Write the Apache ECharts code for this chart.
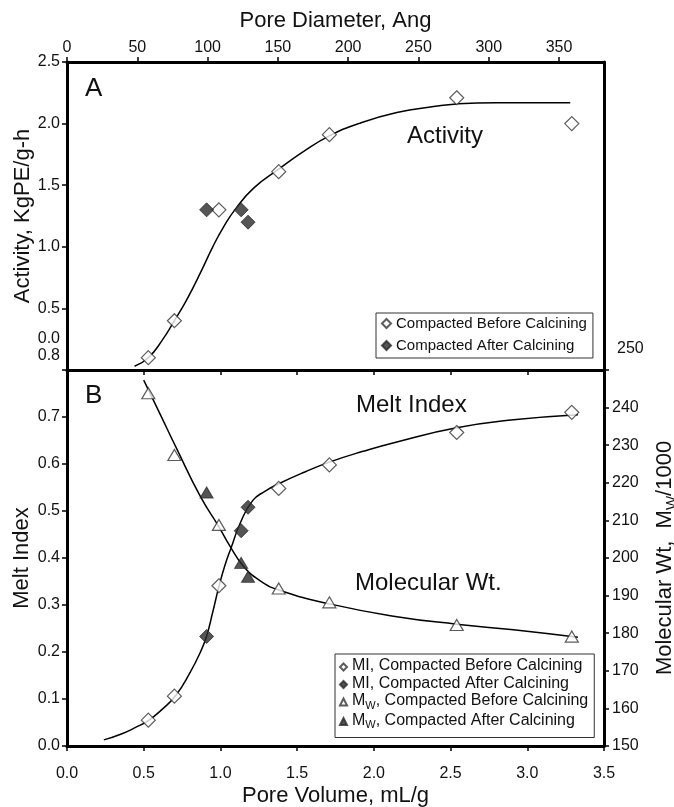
<!DOCTYPE html>
<html>
<head>
<meta charset="utf-8">
<script src="https://cdn.jsdelivr.net/npm/echarts@6/dist/echarts.min.js"></script>
<style>
  html, body { margin: 0; padding: 0; background: #fff; }
  #chart { width: 674px; height: 807px; }
</style>
</head>
<body>
<div id="chart"></div>
<script>
// Sample pore volumes, mL/g
const poreVolBefore = [0.53, 0.70, 0.99, 1.38, 1.71, 2.54, 3.29];
const poreVolAfter = [0.91, 1.135, 1.18];

// Panel A: activity, KgPE/g-h
const activityBefore = [0.10, 0.40, 1.30, 1.61, 1.91, 2.21, 2.00];
const activityAfter = [1.30, 1.30, 1.20];

// Panel B: melt index
const miBefore = [0.055, 0.106, 0.341, 0.548, 0.598, 0.667, 0.710];
const miAfter = [0.233, 0.458, 0.508];

// Panel B: molecular weight, Mw/1000
const mwBefore = [243.8, 227.4, 208.8, 191.9, 188.2, 182.2, 179.1];
const mwAfter = [217.4, 198.7, 195.0];

// Fitted trend curves
const activityFitX = [0.44, 0.53, 0.62, 0.70, 0.78, 0.87, 0.95, 1.02, 1.10, 1.22, 1.38, 1.55, 1.71, 1.90, 2.15, 2.40, 2.54, 2.80, 3.05, 3.28];
const activityFitY = [0.03, 0.10, 0.24, 0.40, 0.57, 0.79, 1.00, 1.16, 1.31, 1.48, 1.63, 1.78, 1.90, 2.00, 2.09, 2.14, 2.16, 2.17, 2.17, 2.17];
const miFitX = [0.24, 0.35, 0.45, 0.53, 0.62, 0.71, 0.80, 0.87, 0.91, 0.95, 0.99, 1.03, 1.07, 1.13, 1.21, 1.29, 1.38, 1.55, 1.71, 1.93, 2.15, 2.54, 2.91, 3.33];
const miFitY = [0.013, 0.025, 0.040, 0.054, 0.078, 0.108, 0.155, 0.200, 0.234, 0.285, 0.339, 0.385, 0.422, 0.475, 0.522, 0.542, 0.558, 0.583, 0.604, 0.627, 0.647, 0.677, 0.694, 0.705];
const mwFitX = [0.50, 0.61, 0.71, 0.87, 0.99, 1.06, 1.15, 1.26, 1.38, 1.71, 2.15, 2.54, 2.91, 3.33];
const mwFitY = [247.3, 238.0, 229.5, 216.3, 208.3, 203.3, 197.8, 193.9, 191.5, 187.8, 184.4, 182.4, 180.9, 178.9];

// Axis ranges and tick steps
const poreVolRange = [0, 3.5, 0.5];
const poreDiamRange = [0, 382, 50];
const activityRange = [0, 2.5, 0.5];
const miRange = [0, 0.8, 0.1];
const mwRange = [150, 250, 10];

const pair = (xs, ys) => xs.map((x, i) => [x, ys[i]]);

const FONT = "'Liberation Sans', Arial, Helvetica, sans-serif";
const INK = '#111';
const frameLine = { show: true, onZero: false, lineStyle: { color: '#000', width: 3 } };
const outTick = { show: true, inside: false, length: 5, lineStyle: { color: '#000', width: 1.5 } };
const tickText = { color: INK, fontSize: 16, fontFamily: FONT };
const titleText = { color: INK, fontSize: 22, fontFamily: FONT };
const noSplit = { show: false };

const openMark = { color: '#fff', borderColor: '#333', borderWidth: 1.2 };
const solidMark = { color: '#2b2b2b', borderColor: '#2b2b2b', borderWidth: 1 };
const fitLine = { color: '#000', width: 1.5 };

const chart = echarts.init(document.getElementById('chart'), null, { renderer: 'canvas' });

const fitSeries = (name, xi, yi, data) => ({
  name, type: 'line', xAxisIndex: xi, yAxisIndex: yi, data,
  symbol: 'none', showSymbol: false, smooth: 0.5,
  lineStyle: fitLine, z: 2, silent: true, clip: true
});
const markSeries = (name, xi, yi, data, symbol, size, style) => ({
  name, type: 'scatter', xAxisIndex: xi, yAxisIndex: yi, data,
  symbol, symbolSize: size, itemStyle: style, z: 3, silent: true
});

// Subscripted "W" for Mw in legend texts
const subRich = {
  m: { fontSize: 16, fontFamily: FONT, color: INK, padding: [0, 0, 2, 0] },
  s: { fontSize: 11, fontFamily: FONT, color: INK, verticalAlign: 'bottom' }
};

const option = {
  backgroundColor: '#fff',
  animation: false,
  grid: [
    { left: 67, right: 70, top: 62, height: 308, outerBoundsMode: 'none', containLabel: false },
    { left: 67, right: 70, top: 370, height: 376, outerBoundsMode: 'none', containLabel: false }
  ],
  xAxis: [
    {
      gridIndex: 0, type: 'value', position: 'bottom',
      min: poreVolRange[0], max: poreVolRange[1], interval: poreVolRange[2],
      axisLine: frameLine, axisTick: outTick, axisLabel: { show: false }, splitLine: noSplit
    },
    {
      gridIndex: 0, type: 'value', position: 'top',
      min: poreDiamRange[0], max: poreDiamRange[1], interval: poreDiamRange[2],
      axisLine: frameLine, axisTick: outTick,
      axisLabel: Object.assign({ margin: 6, showMaxLabel: false, showMinLabel: true }, tickText),
      splitLine: noSplit,
      name: 'Pore Diameter, Ang', nameLocation: 'middle', nameGap: 30, nameTextStyle: titleText
    },
    {
      gridIndex: 1, type: 'value', position: 'bottom',
      min: poreVolRange[0], max: poreVolRange[1], interval: poreVolRange[2],
      axisLine: frameLine, axisTick: outTick,
      axisLabel: Object.assign({ margin: 20, showMinLabel: true, showMaxLabel: true,
        formatter: v => v.toFixed(1) }, tickText),
      splitLine: noSplit,
      name: 'Pore Volume, mL/g', nameLocation: 'middle', nameGap: 39, nameTextStyle: titleText
    }
  ],
  yAxis: [
    {
      gridIndex: 0, type: 'value', position: 'left',
      min: activityRange[0], max: activityRange[1], interval: activityRange[2],
      axisLine: frameLine, axisTick: outTick,
      axisLabel: Object.assign({
        margin: 7, showMinLabel: true, showMaxLabel: true,
        formatter: v => (v === 0 ? '{lo|0.0}' : v.toFixed(1)),
        rich: { lo: Object.assign({ padding: [0, 0, 62, 0] }, tickText) }
      }, tickText),
      splitLine: noSplit,
      name: 'Activity, KgPE/g-h', nameLocation: 'middle', nameGap: 33, nameRotate: 90,
      nameMoveOverlap: false, nameTextStyle: titleText
    },
    {
      gridIndex: 0, type: 'value', position: 'right',
      min: activityRange[0], max: activityRange[1],
      axisLine: frameLine, axisTick: { show: false }, axisLabel: { show: false }, splitLine: noSplit
    },
    {
      gridIndex: 1, type: 'value', position: 'left',
      min: miRange[0], max: miRange[1], interval: miRange[2],
      axisLine: frameLine, axisTick: outTick,
      axisLabel: Object.assign({
        margin: 7, showMinLabel: true, showMaxLabel: true,
        formatter: v => (Math.abs(v - miRange[1]) < 1e-9 ? '{hi|' + v.toFixed(1) + '}' : v.toFixed(1)),
        rich: { hi: Object.assign({ padding: [0, 0, 28, 0] }, tickText) }
      }, tickText),
      splitLine: noSplit,
      name: 'Melt Index', nameLocation: 'middle', nameGap: 34, nameRotate: 90,
      nameMoveOverlap: false, nameTextStyle: titleText
    },
    {
      gridIndex: 1, type: 'value', position: 'right',
      min: mwRange[0], max: mwRange[1], interval: mwRange[2],
      axisLine: frameLine, axisTick: outTick,
      axisLabel: Object.assign({
        margin: 8, showMinLabel: true, showMaxLabel: true,
        formatter: v => (v === mwRange[1] ? '{hi|' + v + '}' : String(v)),
        rich: { hi: Object.assign({ padding: [0, 0, 43, 5] }, tickText) }
      }, tickText),
      splitLine: noSplit,
      name: '{t|Molecular Wt,  M}{u|W}{t|/1000}', nameLocation: 'middle', nameGap: 50, nameRotate: 90,
      nameMoveOverlap: false,
      nameTextStyle: Object.assign({
        rich: {
          t: { fontSize: 22, fontFamily: FONT, color: INK, padding: [0, 0, 3, 0] },
          u: { fontSize: 15, fontFamily: FONT, color: INK, verticalAlign: 'bottom' }
        }
      }, titleText)
    }
  ],
  legend: [
    {
      data: ['Compacted Before Calcining', 'Compacted After Calcining'],
      orient: 'vertical', left: 376, top: 313,
      padding: [3, 6, 5, 5], itemGap: 7, itemWidth: 9, itemHeight: 9,
      borderColor: '#333', borderWidth: 1, backgroundColor: '#fff',
      selectedMode: false,
      textStyle: { color: INK, fontSize: 15, fontFamily: FONT }
    },
    {
      data: ['MI, Compacted Before Calcining', 'MI, Compacted After Calcining',
             'Mw, Compacted Before Calcining', 'Mw, Compacted After Calcining'],
      orient: 'vertical', left: 335, top: 654,
      padding: [4, 6, 7, 4], itemGap: 1.5, itemWidth: 7, itemHeight: 7,
      borderColor: '#333', borderWidth: 1, backgroundColor: '#fff',
      selectedMode: false,
      formatter: name => name.startsWith('Mw')
        ? '{m|M}{s|W}{m|' + name.slice(2) + '}'
        : '{m|' + name + '}',
      textStyle: { color: INK, fontSize: 16, fontFamily: FONT, rich: subRich }
    }
  ],
  graphic: [
    { type: 'text', x: 85, y: 89, silent: true,
      style: { text: 'A', font: '26px ' + FONT, fill: INK, verticalAlign: 'middle', align: 'left' } },
    { type: 'text', x: 85, y: 396, silent: true,
      style: { text: 'B', font: '26px ' + FONT, fill: INK, verticalAlign: 'middle', align: 'left' } },
    { type: 'text', x: 407, y: 136, silent: true,
      style: { text: 'Activity', font: '24px ' + FONT, fill: INK, verticalAlign: 'middle', align: 'left' } },
    { type: 'text', x: 356, y: 405, silent: true,
      style: { text: 'Melt Index', font: '24px ' + FONT, fill: INK, verticalAlign: 'middle', align: 'left' } },
    { type: 'text', x: 355, y: 583, silent: true,
      style: { text: 'Molecular Wt.', font: '24px ' + FONT, fill: INK, verticalAlign: 'middle', align: 'left' } }
  ],
  series: [
    fitSeries('Activity fit', 0, 0, pair(activityFitX, activityFitY)),
    markSeries('Compacted Before Calcining', 0, 0, pair(poreVolBefore, activityBefore), 'diamond', 14, openMark),
    markSeries('Compacted After Calcining', 0, 0, pair(poreVolAfter, activityAfter), 'diamond', 14, solidMark),

    fitSeries('MI fit', 2, 2, pair(miFitX, miFitY)),
    fitSeries('Mw fit', 2, 3, pair(mwFitX, mwFitY)),
    markSeries('MI, Compacted Before Calcining', 2, 2, pair(poreVolBefore, miBefore), 'diamond', 14, openMark),
    markSeries('MI, Compacted After Calcining', 2, 2, pair(poreVolAfter, miAfter), 'diamond', 14, solidMark),
    markSeries('Mw, Compacted Before Calcining', 2, 3, pair(poreVolBefore, mwBefore), 'triangle', [13, 11], openMark),
    markSeries('Mw, Compacted After Calcining', 2, 3, pair(poreVolAfter, mwAfter), 'triangle', [13, 11], solidMark)
  ]
};

chart.setOption(option);
</script>
</body>
</html>
